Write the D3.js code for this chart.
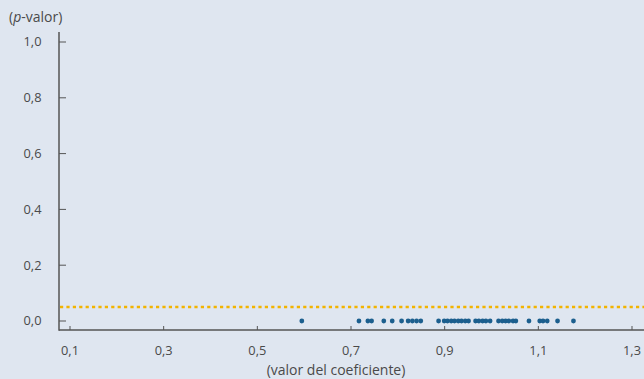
<!DOCTYPE html>
<html>
<head>
<meta charset="utf-8">
<script src="https://cdn.jsdelivr.net/npm/d3@7"></script>
<style>
  html, body { margin: 0; padding: 0; background: #dfe6f0; }
  svg { display: block; }
  text { font-family: "Open Sans", "Noto Sans", sans-serif; fill: #4a4a4a; }
</style>
</head>
<body>
<svg id="chart" width="644" height="379"></svg>
<script>
// Estimated coefficients and their p-values
const coefValues = [
  0.595, 0.717, 0.736, 0.744, 0.770, 0.788, 0.808, 0.822, 0.831, 0.840, 0.849,
  0.887, 0.899, 0.906, 0.914, 0.921, 0.929, 0.936, 0.944, 0.951,
  0.966, 0.973, 0.981, 0.988, 0.997,
  1.015, 1.023, 1.030, 1.037, 1.046, 1.052,
  1.080, 1.103, 1.110, 1.119, 1.141, 1.175
];
const pValues = coefValues.map(() => 0.0);
const significance = 0.05;
const xTicks = [0.1, 0.3, 0.5, 0.7, 0.9, 1.1, 1.3];
const yTicks = [0.0, 0.2, 0.4, 0.6, 0.8, 1.0];

const fmt = d => d3.format(".1f")(d).replace(".", ",");

const svg = d3.select("#chart");
const plotLeft = 59, plotRight = 644, plotTop = 32, plotBottom = 330;

const x = d3.scaleLinear().domain([0.1, 1.3]).range([70, 632]);
const y = d3.scaleLinear().domain([0, 1]).range([321, 42]);

const axisColor = "#555";

// axes lines
svg.append("line").attr("x1", plotLeft).attr("x2", plotLeft).attr("y1", plotTop).attr("y2", plotBottom + 0.75)
  .attr("stroke", axisColor).attr("stroke-width", 1.5);
svg.append("line").attr("x1", plotLeft).attr("x2", plotRight).attr("y1", plotBottom).attr("y2", plotBottom)
  .attr("stroke", axisColor).attr("stroke-width", 1.5);

// y ticks and labels
const yg = svg.append("g");
yg.selectAll("line").data(yTicks).join("line")
  .attr("x1", plotLeft).attr("x2", plotLeft + 7)
  .attr("y1", d => y(d)).attr("y2", d => y(d))
  .attr("stroke", axisColor).attr("stroke-width", 1);
yg.selectAll("text").data(yTicks).join("text")
  .attr("x", 41.5).attr("y", d => y(d)).attr("dy", "0.35em")
  .attr("text-anchor", "end").attr("font-size", 12.8)
  .text(fmt);

// x ticks and labels
const xg = svg.append("g");
xg.selectAll("line").data(xTicks).join("line")
  .attr("x1", d => x(d)).attr("x2", d => x(d))
  .attr("y1", plotBottom).attr("y2", plotBottom - 4)
  .attr("stroke", axisColor).attr("stroke-width", 1);
xg.selectAll("text").data(xTicks).join("text")
  .attr("x", d => x(d)).attr("y", 355)
  .attr("text-anchor", "middle").attr("font-size", 12.8)
  .text(fmt);

// significance threshold
svg.append("line")
  .attr("x1", plotLeft + 1).attr("x2", plotRight)
  .attr("y1", y(significance)).attr("y2", y(significance))
  .attr("stroke", "#f2b400").attr("stroke-width", 2.5)
  .attr("stroke-dasharray", "3.2,3.2");

// points
svg.append("g").selectAll("circle").data(coefValues).join("circle")
  .attr("cx", d => x(d)).attr("cy", (d, i) => y(pValues[i]))
  .attr("r", 2.4).attr("fill", "#1c5f8e");

// axis titles
const yt = svg.append("text").attr("x", 9).attr("y", 22).attr("font-size", 14);
yt.append("tspan").text("(");
yt.append("tspan").attr("font-style", "italic").text("p");
yt.append("tspan").text("-valor)");

svg.append("text").attr("x", 336).attr("y", 375)
  .attr("text-anchor", "middle").attr("font-size", 14)
  .text("(valor del coeficiente)");
</script>
</body>
</html>
